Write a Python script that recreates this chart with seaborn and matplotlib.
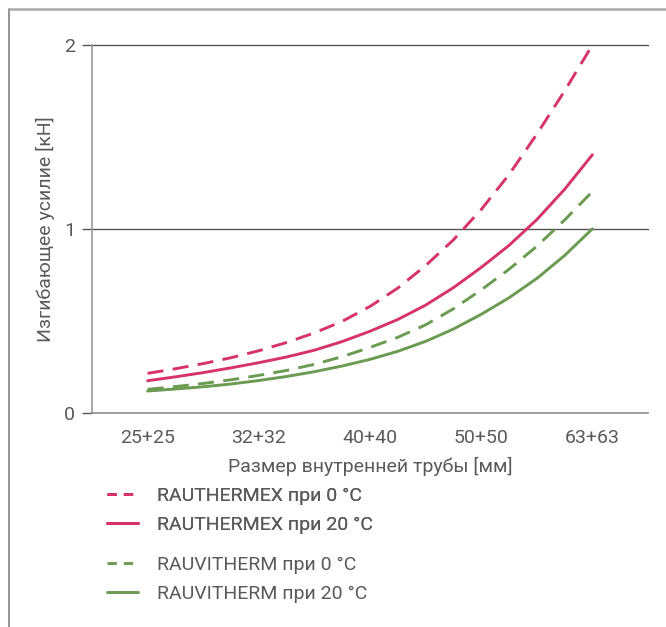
import numpy as np
import pandas as pd
import matplotlib
matplotlib.use("Agg")
import matplotlib.pyplot as plt
from matplotlib.lines import Line2D
import seaborn as sns

# ---- data ----
categories = ["25+25", "32+32", "40+40", "50+50", "63+63"]
# sample positions in category units (centres, quarter and half steps between them)
x_samples = [0.0, 0.25, 0.5, 0.75, 1.0, 1.25, 1.5, 1.75, 2.0,
             2.25, 2.5, 2.75, 3.0, 3.25, 3.5, 3.75, 4.0]
rauthermex_0 = [0.214, 0.239, 0.267, 0.299, 0.337, 0.382, 0.434, 0.497, 0.578,
                0.678, 0.800, 0.940, 1.105, 1.295, 1.515, 1.750, 2.000]
rauthermex_20 = [0.174, 0.195, 0.218, 0.244, 0.272, 0.303, 0.340, 0.387, 0.443,
                 0.507, 0.585, 0.680, 0.790, 0.910, 1.050, 1.215, 1.403]
rauvitherm_0 = [0.127, 0.142, 0.159, 0.179, 0.203, 0.230, 0.263, 0.305, 0.355,
                0.410, 0.478, 0.565, 0.668, 0.780, 0.905, 1.048, 1.203]
rauvitherm_20 = [0.118, 0.129, 0.141, 0.156, 0.175, 0.197, 0.223, 0.254, 0.290,
                 0.334, 0.388, 0.455, 0.535, 0.625, 0.730, 0.855, 1.000]
series_labels = ["RAUTHERMEX при 0 °C", "RAUTHERMEX при 20 °C",
                 "RAUVITHERM при 0 °C", "RAUVITHERM при 20 °C"]
y_ticks = [0, 1, 2]
y_label = "Изгибающее усилие [кН]"
x_label = "Размер внутренней трубы [мм]"

PINK = "#d6336c"
GREEN = "#6b9a52"
TEXT = "#5a5a5a"

sns.set_style("white")
plt.rcParams["font.family"] = ["Roboto", "DejaVu Sans"]

fig = plt.figure(figsize=(6.66, 6.27), dpi=100)
ax = fig.add_axes([92 / 666, 1 - 412.7 / 627, (648 - 92) / 666, (412.7 - 45) / 627])

styles = [(PINK, (0, (5.5, 3.2))), (PINK, "-"), (GREEN, (0, (5.5, 3.2))), (GREEN, "-")]
leg_styles = [(PINK, (0, (3.2, 2.4))), (PINK, "-"), (GREEN, (0, (3.2, 2.4))), (GREEN, "-")]
all_vals = [rauthermex_0, rauthermex_20, rauvitherm_0, rauvitherm_20]
handles = []
for vals, lab, (col, ls), (_, lls) in zip(all_vals, series_labels, styles, leg_styles):
    df = pd.DataFrame({"x": x_samples, "y": vals})
    sns.lineplot(data=df, x="x", y="y", ax=ax, color=col, lw=2.1, clip_on=False,
                 legend=False)
    line = ax.lines[-1]
    line.set_linestyle(ls)
    handles.append(Line2D([], [], color=col, lw=2.1, linestyle=lls, label=lab))

ax.set_xlim(-0.5, 4.5)
ax.set_ylim(0, 2)

# horizontal grid lines at 1 and 2
for yv in y_ticks[1:]:
    ax.axhline(yv, color="#555555", lw=1.0, zorder=0, clip_on=False)

for s in ["top", "right"]:
    ax.spines[s].set_visible(False)
ax.spines["left"].set_color("#9a9a9a")
ax.spines["left"].set_linewidth(1.2)
ax.spines["bottom"].set_color("#8a8a8a")
ax.spines["bottom"].set_linewidth(1.2)

ax.set_xticks(range(len(categories)))
ax.set_xticklabels(categories)
ax.set_xticks([i - 0.5 for i in range(len(categories) + 1)], minor=True)
ax.tick_params(axis="x", which="major", length=0, pad=12, labelsize=14, labelcolor=TEXT)
ax.tick_params(axis="x", which="minor", length=6, width=1.2, color="#8a8a8a", direction="out")
ax.set_yticks(y_ticks)
ax.tick_params(axis="y", length=7, width=1.0, color="#555555", pad=5, labelsize=14,
               labelcolor=TEXT, left=True)

ax.set_xlabel(x_label, fontsize=14, color=TEXT, labelpad=7)
ax.set_ylabel(y_label, fontsize=14, color=TEXT, labelpad=7)

leg_kw = dict(loc="upper left", frameon=False, fontsize=14, handlelength=1.6,
              handletextpad=0.95, labelspacing=0.55, labelcolor=TEXT, borderaxespad=0,
              borderpad=0)
leg1 = fig.legend(handles=handles[:2], bbox_to_anchor=(107 / 666, 1 - 487 / 627), **leg_kw)
leg2 = fig.legend(handles=handles[2:], bbox_to_anchor=(107 / 666, 1 - 556 / 627), **leg_kw)
fig.add_artist(leg1)

# outer frame (left and top edges)
fig.add_artist(Line2D([9 / 666, 9 / 666], [0, 1 - 9 / 627], transform=fig.transFigure,
                      color="#8a8a8a", lw=1.3))
fig.add_artist(Line2D([9 / 666, 1], [1 - 9 / 627, 1 - 9 / 627], transform=fig.transFigure,
                      color="#aaaaaa", lw=1.8))

fig.savefig("out.png", dpi=100)
